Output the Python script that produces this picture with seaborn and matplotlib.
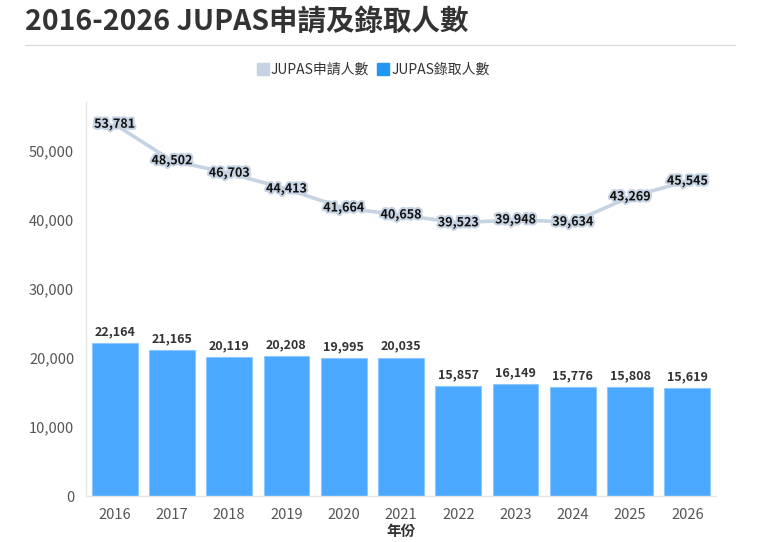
import matplotlib
matplotlib.use("Agg")
import matplotlib.pyplot as plt
import matplotlib.patheffects as pe
from matplotlib.lines import Line2D
import numpy as np
import pandas as pd
import seaborn as sns

years = ["2016", "2017", "2018", "2019", "2020", "2021", "2022", "2023", "2024", "2025", "2026"]
applicants = [53781, 48502, 46703, 44413, 41664, 40658, 39523, 39948, 39634, 43269, 45545]
admitted = [22164, 21165, 20119, 20208, 19995, 20035, 15857, 16149, 15776, 15808, 15619]
series_names = ["JUPAS申請人數", "JUPAS錄取人數"]
title = "2016-2026 JUPAS申請及錄取人數"
xlabel = "年份"
yticks = [0, 10000, 20000, 30000, 40000, 50000]

sns.set_theme(style="white")
plt.rcParams["font.family"] = ["Noto Sans CJK TC", "DejaVu Sans"]

bar_color = "#4aa8ff"
line_color = "#c6d3e2"

df = pd.DataFrame({"year": years, "applicants": applicants, "admitted": admitted})
df["pos"] = np.arange(len(df))

fig = plt.figure(figsize=(7.59, 5.42), dpi=100)
ax = fig.add_axes([86 / 759, 1 - 496 / 542, 630 / 759, 394 / 542])

sns.barplot(data=df, x="year", y="admitted", color=bar_color, width=0.8,
            edgecolor="#8ec8ff", linewidth=0.8, saturation=1, ax=ax)
sns.lineplot(data=df, x="pos", y="applicants", color=line_color, linewidth=2.6, ax=ax)

for i, v in enumerate(admitted):
    ax.text(i, v + 700, f"{v:,}", ha="center", va="bottom", fontsize=9,
            fontweight="bold", color="#333333")
for i, v in enumerate(applicants):
    ax.text(i, v, f"{v:,}", ha="center", va="center", fontsize=9,
            fontweight="bold", color="#111111",
            path_effects=[pe.withStroke(linewidth=3, foreground=line_color)])

ax.set_xlim(-0.5, len(years) - 0.5)
ax.set_ylim(0, 57000)
ax.set_yticks(yticks)
ax.set_yticklabels([f"{t:,}" for t in yticks])
ax.tick_params(axis="both", labelsize=10.5, colors="#555555", length=5, width=0.8, color="#e0e0e0")
ax.set_xlabel(xlabel, fontsize=10.5, fontweight="bold", color="#333333", labelpad=1)
ax.set_ylabel("")
for s in ["top", "right"]:
    ax.spines[s].set_visible(False)
for s in ["left", "bottom"]:
    ax.spines[s].set_color("#e6e6e6")
    ax.spines[s].set_linewidth(1)

fig.text(25 / 759, 1 - 22 / 542, title, ha="left", va="center", fontsize=20.5,
         fontweight="bold", color="#333333")
fig.add_artist(Line2D([25 / 759, 735 / 759], [1 - 45 / 542, 1 - 45 / 542],
                      transform=fig.transFigure, color="#dddddd", linewidth=1))

handles = [Line2D([], [], marker="s", linestyle="", markersize=8, markerfacecolor=line_color,
                  markeredgecolor=line_color),
           Line2D([], [], marker="s", linestyle="", markersize=8, markerfacecolor="#2196f3",
                  markeredgecolor="#2196f3")]
fig.legend(handles, series_names, loc="center", bbox_to_anchor=(372 / 759, 1 - 70 / 542),
           ncol=2, frameon=False, fontsize=10, handletextpad=0.0, columnspacing=0.4,
           handlelength=1.2, labelcolor="#333333")

fig.savefig("out.png", dpi=100)
